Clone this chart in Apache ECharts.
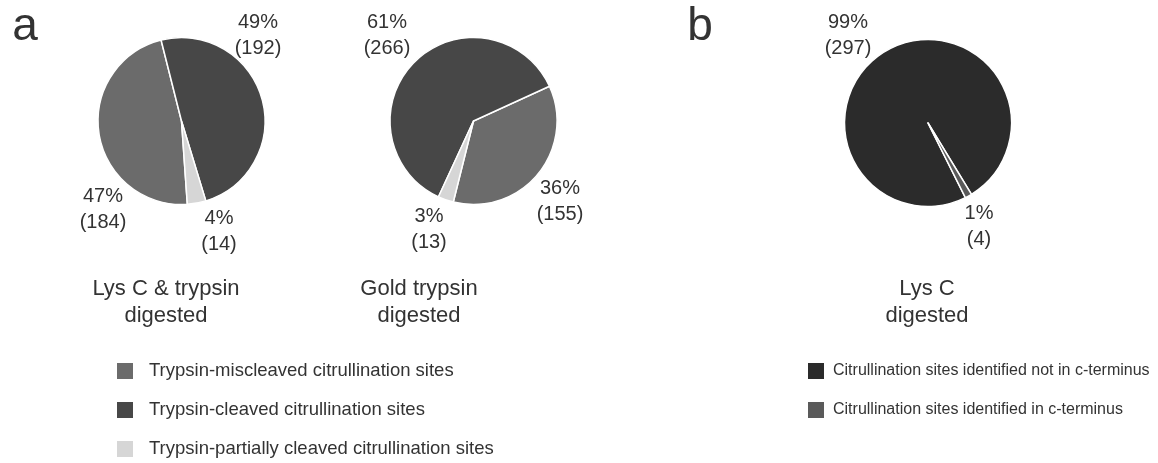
<!DOCTYPE html>
<html>
<head>
<meta charset="utf-8">
<script src="https://cdn.jsdelivr.net/npm/echarts@6/dist/echarts.min.js"></script>
<style>
  html, body { margin: 0; padding: 0; background: #fff; }
  #chart { width: 1158px; height: 463px; }
</style>
</head>
<body>
<div id="chart"></div>
<script>
// categories and counts
const cleavageNames = [
  'Trypsin-miscleaved citrullination sites',
  'Trypsin-cleaved citrullination sites',
  'Trypsin-partially cleaved citrullination sites',
];
const lysTrypsinCounts = [184, 192, 14];
const goldTrypsinCounts = [155, 266, 13];

const terminusNames = [
  'Citrullination sites identified not in c-terminus',
  'Citrullination sites identified in c-terminus',
];
const lysCCounts = [297, 4];

const cleavageColors = ['#6b6b6b', '#474747', '#d6d6d6'];
const terminusColors = ['#2b2b2b', '#5a5a5a'];

const font = '"Liberation Sans", Arial, sans-serif';
const textColor = '#333';

// where each percent/count label sits (centre of the two-line block)
const labelSpots = [
  [[103, 209], [258, 35], [219, 231]],
  [[560, 201], [387, 35], [429, 229]],
  [[848, 35], [979, 226]],
];

const toData = (names, counts, colors) =>
  names.map((name, i) => ({ name, value: counts[i], itemStyle: { color: colors[i] } }));

const makePie = (idx, center, startAngle, clockwise, data) => ({
  type: 'pie',
  radius: 83.5,
  center,
  startAngle,
  clockwise,
  percentPrecision: 0,
  animation: false,
  avoidLabelOverlap: false,
  itemStyle: { borderColor: '#fff', borderWidth: 1.5 },
  label: {
    position: 'outside',
    formatter: '{d}%\n({c})',
    fontFamily: font,
    fontSize: 20,
    lineHeight: 26,
    color: textColor,
  },
  labelLine: { show: false },
  labelLayout: (p) => ({
    x: labelSpots[idx][p.dataIndex][0],
    y: labelSpots[idx][p.dataIndex][1],
    align: 'center',
    verticalAlign: 'middle',
  }),
  emphasis: { disabled: true },
  data,
});

const textEl = (x, y, text, size, lineHeight) => ({
  type: 'text',
  x,
  y,
  silent: true,
  style: {
    text,
    fill: textColor,
    fontFamily: font,
    fontSize: size,
    lineHeight,
    align: 'center',
    verticalAlign: 'top',
  },
});

const legendBase = {
  orient: 'vertical',
  icon: 'rect',
  itemWidth: 18,
  itemHeight: 18,
  itemGap: 19,
  padding: 0,
  height: 110,
  selectedMode: false,
};
const legendText = (size, padLeft) => ({
  fontFamily: font, fontSize: size, lineHeight: 18, color: textColor, padding: [0, 0, 0, padLeft],
});

const chart = echarts.init(document.getElementById('chart'));
chart.setOption({
  backgroundColor: '#fff',
  animation: false,
  legend: [
    { ...legendBase, data: cleavageNames, left: 115, top: 361, textStyle: legendText(18.5, 10) },
    { ...legendBase, data: terminusNames, left: 806, top: 361, textStyle: legendText(16, 3) },
  ],
  graphic: [
    textEl(25, 4, 'a', 46, 46),
    textEl(700, 4, 'b', 46, 46),
    textEl(166, 275, 'Lys C & trypsin\ndigested', 22, 27),
    textEl(419, 275, 'Gold trypsin\ndigested', 22, 27),
    textEl(927, 275, 'Lys C\ndigested', 22, 27),
  ],
  series: [
    makePie(0, [181.5, 121], -86, true, toData(cleavageNames, lysTrypsinCounts, cleavageColors)),
    makePie(1, [473.5, 121], -104, false, toData(cleavageNames, goldTrypsinCounts, cleavageColors)),
    makePie(2, [928, 123], -63.4, true, toData(terminusNames, lysCCounts, terminusColors)),
  ],
});
</script>
</body>
</html>
